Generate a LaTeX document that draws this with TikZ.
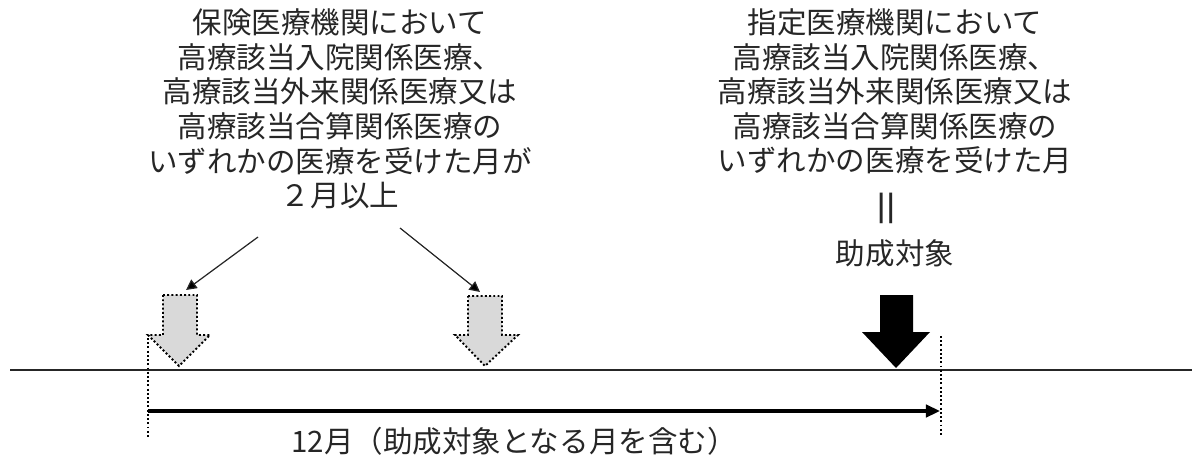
\documentclass[tikz,border=0pt]{standalone}
\usepackage{fontspec}
\usetikzlibrary{positioning, arrows.meta}
\newfontfamily\jpfont{Noto Sans CJK JP}
\definecolor{arrowgray}{HTML}{D9D9D9}
\definecolor{inkgray}{HTML}{262626}

\begin{document}
\begin{tikzpicture}[x=0.02cm, y=-0.02cm,
  every node/.style={font=\jpfont\fontsize{16.8}{19.7}\selectfont, text=inkgray, inner sep=0pt},
  note/.style={align=center},
  dotline/.style={line width=1.1pt, dash pattern=on 1.1pt off 1.3pt},
  grayarrow/.style={fill=arrowgray, draw=black, line width=1.1pt, dash pattern=on 1.1pt off 1.3pt, line join=miter},
  pointer/.style={draw=inkgray, line width=0.7pt, -{Triangle[length=6pt, width=6pt, fill=black]}}]
  \useasboundingbox (0,0) rectangle (1192,459);

  % texts
  \node[note] (leftnote) at (340,109) {保険医療機関において\\高療該当入院関係医療、\\高療該当外来関係医療又は\\高療該当合算関係医療の\\いずれかの医療を受けた月が\\２月以上};
  \node[note] (rightnote) at (895,91.5) {指定医療機関において\\高療該当入院関係医療、\\高療該当外来関係医療又は\\高療該当合算関係医療の\\いずれかの医療を受けた月};
  \node[rotate=90, font=\jpfont\fontsize{24}{24}\selectfont] (eqsign) at (891,208) {＝};
  \node (target) at (895,253) {助成対象};

  % time line
  \coordinate (lineA) at (10,370);
  \coordinate (lineB) at (1192,370);
  \draw[line width=1.6pt, draw=inkgray] (lineA) -- (lineB);

  % 12 month span
  \coordinate (startT) at (148,338);
  \coordinate (startB) at (148,438);
  \coordinate (endT) at (941,336);
  \coordinate (endB) at (941,436);
  \draw[dotline] (startT) -- (startB);
  \draw[dotline] (endT) -- (endB);
  \coordinate (spanA) at (148,411);
  \coordinate (spanB) at (940,411);
  \draw[line width=2pt, -{Triangle[length=8pt, width=7pt]}] (spanA) -- (spanB);
  \node (spanlabel) at (514,441) {12月（助成対象となる月を含む）};

  % gray month arrows
  \draw[grayarrow] (163,295) -- (197,295) -- (197,335) -- (210,335) -- (179,366)
    -- (148,335) -- (163,335) -- cycle;
  \draw[grayarrow] (468,296) -- (502,296) -- (502,335) -- (518,335) -- (485,366)
    -- (455,335) -- (468,335) -- cycle;
  \coordinate (leftTop) at (186,290);
  \coordinate (midTop) at (480,292);

  % black target arrow
  \fill[black] (880,295) -- (913,295) -- (913,332) -- (930,332) -- (896,368)
    -- (862,332) -- (880,332) -- cycle;

  % pointers from "2月以上"
  \coordinate (fromL) at (258,237);
  \coordinate (fromR) at (400,228);
  \draw[pointer] (fromL) -- (leftTop);
  \draw[pointer] (fromR) -- (midTop);
\end{tikzpicture}
\end{document}
